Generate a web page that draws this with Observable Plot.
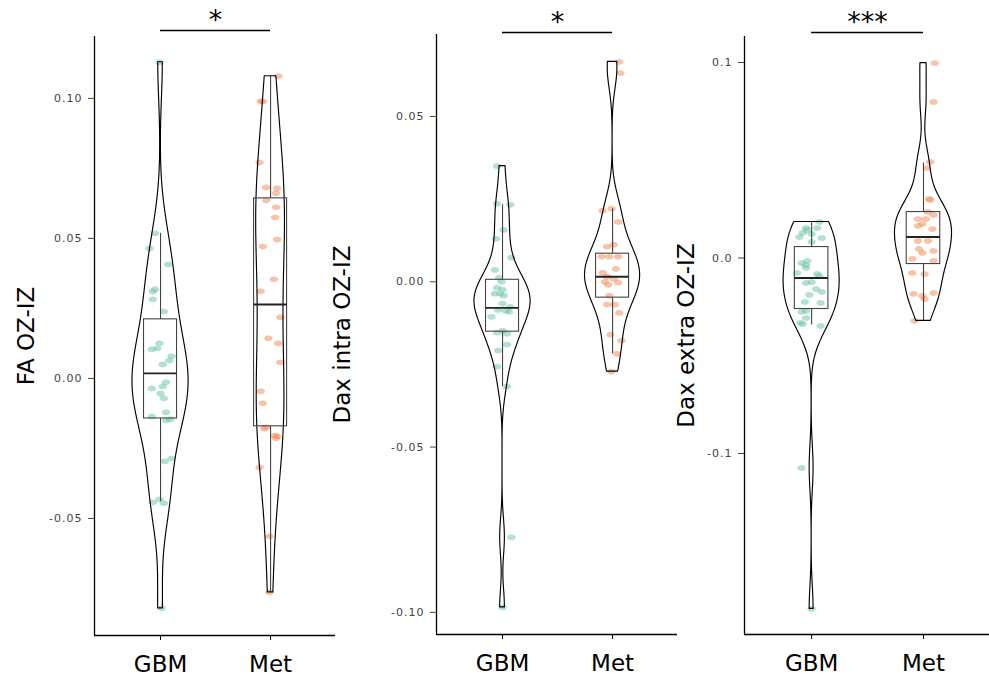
<!DOCTYPE html>
<html>
<head>
<meta charset="utf-8">
<script src="https://cdn.jsdelivr.net/npm/d3@7"></script>
<script src="https://cdn.jsdelivr.net/npm/@observablehq/plot@0.6"></script>
<style>
  html, body { margin: 0; padding: 0; background: white; }
  #wrap { position: relative; width: 989px; height: 677px; overflow: hidden; }
  #wrap svg { position: absolute; left: 0; top: 0; }
  g[aria-label="y-axis tick label"] text { letter-spacing: 1px; }
</style>
</head>
<body>
<div id="wrap"></div>
<script>
// ---------- data ----------
const groups = ["GBM", "Met"];
const groupColors = ["#66c2a5", "#f08a55"];

// Panel 1: FA OZ-IZ
const faLabel = "FA OZ-IZ";
const faSig = "*";
const faTicks = [-0.05, 0, 0.05, 0.10];
const faTickLabels = ["-0.05", "0.00", "0.05", "0.10"];
const faDomain = [-0.0918, 0.1221];
const faGBM = [0.1129,0.0518,0.0464,0.0407,0.0318,0.0310,0.0282,0.0239,0.0125,0.0107,0.0104,0.0079,0.0064,0.0050,-0.0014,-0.0029,-0.0036,-0.0054,-0.0071,-0.0121,-0.0136,-0.0150,-0.0146,-0.0296,-0.0286,-0.0432,-0.0443,-0.0446,-0.0821];
const faGBMJitter = [-0.01,-0.05,-0.10,0.07,-0.05,-0.07,-0.07,0.03,-0.01,-0.03,-0.08,0.10,0.08,0.02,0.05,0.02,-0.08,0.00,0.03,0.05,-0.08,0.05,0.09,0.04,0.10,-0.01,-0.07,0.03,0.01];
const faMet = [0.1079,0.0989,0.0989,0.0771,0.0682,0.0679,0.0661,0.0636,0.0611,0.0575,0.0496,0.0471,0.0354,0.0311,0.0218,0.0143,0.0125,0.0057,-0.0046,-0.0089,-0.0175,-0.0179,-0.0204,-0.0207,-0.0214,-0.0318,-0.0564,-0.0764];
const faMetJitter = [0.07,-0.09,-0.07,-0.10,-0.04,0.06,0.05,-0.04,0.05,0.04,0.06,-0.07,0.03,-0.09,0.09,-0.02,0.07,0.09,-0.09,-0.07,-0.04,-0.06,0.04,0.06,0.05,-0.10,-0.01,-0.01];
// [lower whisker, q1, median, q3, upper whisker]
const faBoxGBM = [-0.0440, -0.0143, 0.0018, 0.0211, 0.0518];
const faBoxMet = [-0.0764, -0.0171, 0.0264, 0.0643, 0.1079];

// Panel 2: Dax intra OZ-IZ
const intraLabel = "Dax intra OZ-IZ";
const intraSig = "*";
const intraTicks = [-0.10, -0.05, 0, 0.05];
const intraTickLabels = ["-0.10", "-0.05", "0.00", "0.05"];
const intraDomain = [-0.1067, 0.0748];
const intraGBM = [0.0350,0.0236,0.0233,0.0157,0.0130,0.0073,0.0036,0.0012,0.0000,-0.0018,-0.0024,-0.0036,-0.0036,-0.0042,-0.0066,-0.0076,-0.0085,-0.0088,-0.0091,-0.0106,-0.0148,-0.0154,-0.0157,-0.0190,-0.0208,-0.0257,-0.0317,-0.0773,-0.0985];
const intraGBMJitter = [-0.05,-0.05,0.07,0.01,-0.06,0.08,-0.07,-0.03,-0.01,-0.05,0.00,-0.07,-0.02,0.01,0.00,0.07,-0.04,0.03,0.06,-0.10,0.00,-0.05,0.04,0.04,-0.04,-0.05,0.04,0.08,0.00];
const intraMet = [0.0665,0.0631,0.0221,0.0215,0.0181,0.0112,0.0106,0.0076,0.0076,0.0076,0.0039,0.0027,0.0015,0.0009,0.0000,-0.0003,-0.0009,-0.0042,-0.0069,-0.0069,-0.0094,-0.0160,-0.0178,-0.0218,-0.0272];
const intraMetJitter = [0.06,0.07,-0.01,-0.09,0.05,0.01,-0.05,-0.10,-0.03,0.05,0.03,-0.09,-0.05,0.01,-0.07,0.05,-0.04,-0.03,-0.05,0.02,0.06,-0.02,0.08,0.04,-0.01];
const intraBoxGBM = [-0.0317, -0.0151, -0.0079, 0.0006, 0.0233];
const intraBoxMet = [-0.0218, -0.0048, 0.0015, 0.0085, 0.0221];

// Panel 3: Dax extra OZ-IZ
const extraLabel = "Dax extra OZ-IZ";
const extraSig = "***";
const extraTicks = [-0.1, 0, 0.1];
const extraTickLabels = ["-0.1", "0.0", "0.1"];
const extraDomain = [-0.1926, 0.1133];
const extraGBM = [0.0184,0.0153,0.0153,0.0143,0.0128,0.0123,0.0107,0.0102,0.0082,-0.0015,-0.0026,-0.0036,-0.0051,-0.0077,-0.0082,-0.0092,-0.0123,-0.0128,-0.0159,-0.0174,-0.0189,-0.0225,-0.0230,-0.0271,-0.0276,-0.0307,-0.0332,-0.0338,-0.0348,-0.1074,-0.1795];
const extraGBMJitter = [0.07,0.05,-0.05,-0.04,-0.08,0.00,-0.11,0.09,0.00,-0.04,-0.09,-0.05,-0.05,-0.13,0.05,0.07,0.00,-0.05,0.04,0.09,-0.02,-0.06,0.08,-0.05,-0.09,-0.05,-0.10,-0.08,0.08,-0.09,0.00];
const extraMet = [0.0997,0.0798,0.0491,0.0460,0.0302,0.0297,0.0235,0.0220,0.0199,0.0199,0.0174,0.0164,0.0148,0.0087,0.0087,0.0046,0.0036,0.0026,-0.0005,-0.0015,-0.0077,-0.0082,-0.0179,-0.0184,-0.0194,-0.0210,-0.0322];
const extraMetJitter = [0.10,0.09,0.06,0.03,0.05,0.06,0.04,0.09,-0.05,0.02,-0.01,-0.05,0.08,-0.05,0.04,-0.04,0.09,-0.01,-0.10,0.09,-0.10,0.01,0.09,-0.09,-0.01,0.01,-0.08];
const extraBoxGBM = [-0.0343, -0.0261, -0.0102, 0.0056, 0.0184];
const extraBoxMet = [-0.0322, -0.0031, 0.0107, 0.0235, 0.0486];

// ---------- helpers ----------
const xDomain = [0.4, 2.59];
const violinMaxHalf = 0.255;
const boxHalf = 0.15;

function nrd0(v) {
  const sd = d3.deviation(v);
  const iqr = d3.quantile(v, 0.75) - d3.quantile(v, 0.25);
  let lo = Math.min(sd, iqr / 1.34);
  if (!(lo > 0)) lo = sd || Math.abs(v[0]) || 1;
  return 0.9 * lo * Math.pow(v.length, -0.2);
}
function kde(v) {
  const bw = nrd0(v);
  const lo = d3.min(v), hi = d3.max(v), n = 512;
  const out = [];
  for (let i = 0; i < n; i++) {
    const y = lo + (hi - lo) * i / (n - 1);
    const d = d3.mean(v, x => Math.exp(-0.5 * ((y - x) / bw) ** 2)) / (bw * Math.sqrt(2 * Math.PI));
    out.push({y, d});
  }
  return out;
}

const ellipse = {
  draw(ctx) {
    const rx = 4.2, ry = 2.9, n = 20;
    for (let i = 0; i < n; i++) {
      const a = 2 * Math.PI * i / n;
      const px = rx * Math.cos(a), py = ry * Math.sin(a);
      if (i === 0) ctx.moveTo(px, py); else ctx.lineTo(px, py);
    }
    ctx.closePath();
  }
};

function panel(cfg) {
  const vals = [cfg.gbm, cfg.met];
  const jit = [cfg.gbmJit, cfg.metJit];
  const boxes = [cfg.boxGbm, cfg.boxMet];
  const dens = vals.map(kde);
  const dmax = d3.max(dens.flat(), d => d.d);
  const violin = [];
  dens.forEach((ds, gi) => ds.forEach(({y, d}) => {
    const w = d / dmax * violinMaxHalf;
    violin.push({g: gi + 1, y, x1: gi + 1 - w, x2: gi + 1 + w});
  }));
  const points = [];
  vals.forEach((vs, gi) => vs.forEach((v, i) => points.push({g: gi, x: gi + 1 + jit[gi][i], y: v})));
  const boxRows = boxes.map((b, gi) => ({g: gi + 1, lw: b[0], q1: b[1], med: b[2], q3: b[3], uw: b[4]}));
  const fmt = d => cfg.tickLabels[cfg.ticks.findIndex(t => Math.abs(t - d) < 1e-9)];
  const ymax = cfg.domain[1];
  return Plot.plot({
    width: 989, height: 677,
    marginLeft: cfg.left, marginRight: 989 - cfg.right,
    marginTop: cfg.top, marginBottom: 677 - cfg.bottom,
    x: {type: "linear", domain: xDomain},
    y: {domain: cfg.domain},
    style: {background: "transparent", fontFamily: "DejaVu Sans", overflow: "visible"},
    marks: [
      Plot.ruleX([xDomain[0]], {stroke: "black", strokeWidth: 1.3}),
      Plot.ruleY([cfg.domain[0]], {stroke: "black", strokeWidth: 1.3}),
      Plot.axisY({ticks: cfg.ticks, tickFormat: fmt, tickSize: 6, tickPadding: 6, fontSize: 11, color: "#444", label: null}),
      Plot.axisX({ticks: [1, 2], tickFormat: d => groups[d - 1], tickSize: 5, tickPadding: 15, fontSize: 23, color: "black", label: null}),
      Plot.dot(points, {x: "x", y: "y", fill: d => groupColors[d.g], fillOpacity: 0.5, symbol: ellipse, r: 3}),
      Plot.areaX(violin, {y: "y", x1: "x1", x2: "x2", z: "g", fill: "none", stroke: "black", strokeWidth: 1.15}),
      Plot.ruleX(boxRows, {x: "g", y1: "q3", y2: "uw", stroke: "#444", strokeWidth: 1.1}),
      Plot.ruleX(boxRows, {x: "g", y1: "lw", y2: "q1", stroke: "#444", strokeWidth: 1.1}),
      Plot.rect(boxRows, {x1: d => d.g - boxHalf, x2: d => d.g + boxHalf, y1: "q1", y2: "q3", fill: "none", stroke: "#444", strokeWidth: 1.1}),
      Plot.ruleY(boxRows, {y: "med", x1: d => d.g - boxHalf, x2: d => d.g + boxHalf, stroke: "#222", strokeWidth: 1.9}),
      Plot.ruleY([ymax], {x1: 1, x2: 2, dy: cfg.barDy, stroke: "black", strokeWidth: 1.3}),
      Plot.text([cfg.sig], {x: 1.5, y: ymax, dy: cfg.barDy - 10, fontSize: 27, text: d => d, fill: "black"}),
      Plot.text([cfg.label], {frameAnchor: "left", textAnchor: "middle", lineAnchor: "middle", dx: -cfg.labelDx, rotate: -90, fontSize: 23, text: d => d, fill: "black"})
    ]
  });
}

const wrap = document.getElementById("wrap");
wrap.append(panel({
  gbm: faGBM, met: faMet, gbmJit: faGBMJitter, metJit: faMetJitter,
  boxGbm: faBoxGBM, boxMet: faBoxMet, ticks: faTicks, tickLabels: faTickLabels,
  domain: faDomain, left: 94, right: 335, top: 36, bottom: 635,
  sig: faSig, label: faLabel, barDy: -6, labelDx: 68
}));
wrap.append(panel({
  gbm: intraGBM, met: intraMet, gbmJit: intraGBMJitter, metJit: intraMetJitter,
  boxGbm: intraBoxGBM, boxMet: intraBoxMet, ticks: intraTicks, tickLabels: intraTickLabels,
  domain: intraDomain, left: 436, right: 677, top: 34, bottom: 634,
  sig: intraSig, label: intraLabel, barDy: -2, labelDx: 94
}));
wrap.append(panel({
  gbm: extraGBM, met: extraMet, gbmJit: extraGBMJitter, metJit: extraMetJitter,
  boxGbm: extraBoxGBM, boxMet: extraBoxMet, ticks: extraTicks, tickLabels: extraTickLabels,
  domain: extraDomain, left: 744, right: 989, top: 36, bottom: 634,
  sig: extraSig, label: extraLabel, barDy: -4, labelDx: 58
}));
</script>
</body>
</html>
